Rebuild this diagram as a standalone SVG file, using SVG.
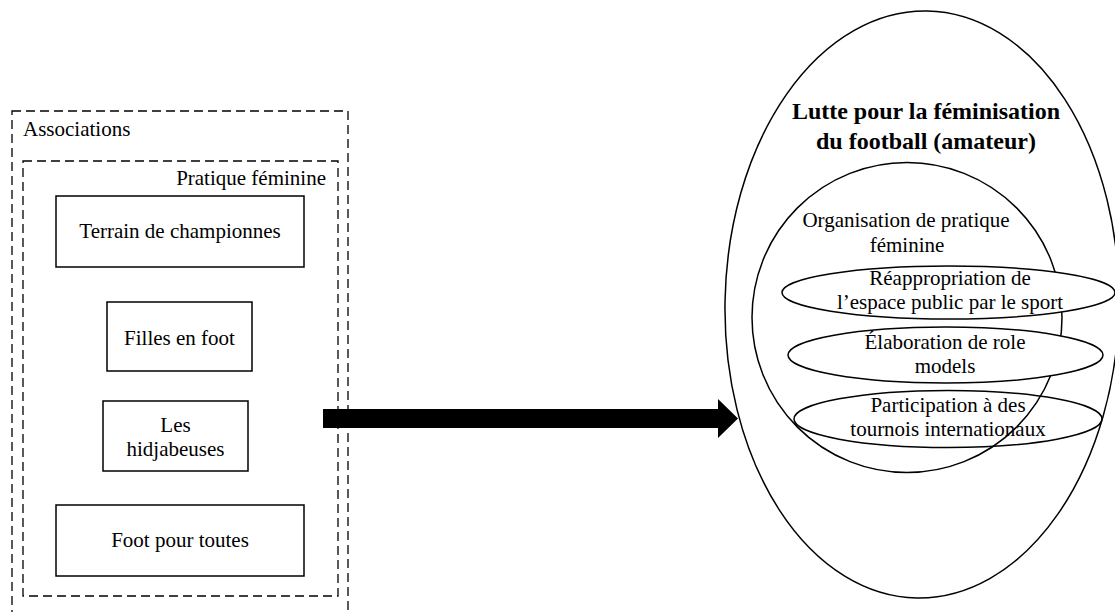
<svg xmlns="http://www.w3.org/2000/svg" width="1115" height="612" viewBox="0 0 1115 612">
<style>
.t{font-family:"Liberation Serif","Times New Roman",serif;font-size:21px;fill:#000}
.b{font-family:"Liberation Serif","Times New Roman",serif;font-size:24px;font-weight:bold;fill:#000}
.dash{fill:none;stroke:#000;stroke-width:1.3;stroke-dasharray:9,5}
.box{fill:#fff;stroke:#000;stroke-width:1.5}
.ell{fill:#fff;stroke:#000;stroke-width:1.5}
</style>
<rect width="1115" height="612" fill="#fff"/>
<g id="associations">
<rect class="dash" x="12" y="111" width="336" height="520"/>
<text class="t" x="23" y="136">Associations</text>
</g>
<g id="pratique-feminine">
<rect class="dash" x="23" y="161" width="315" height="435"/>
<text class="t" x="326" y="185" text-anchor="end">Pratique féminine</text>
</g>
<g id="terrain">
<rect class="box" x="56" y="196" width="248" height="71"/>
<text class="t" x="180" y="238" text-anchor="middle">Terrain de championnes</text>
</g>
<g id="filles">
<rect class="box" x="107" y="302" width="145" height="69"/>
<text class="t" x="179.5" y="345" text-anchor="middle">Filles en foot</text>
</g>
<g id="hidjabeuses">
<rect class="box" x="103" y="401" width="145" height="70"/>
<text class="t" x="175.5" y="432" text-anchor="middle">Les</text>
<text class="t" x="175.5" y="456" text-anchor="middle">hidjabeuses</text>
</g>
<g id="foot-pour-toutes">
<rect class="box" x="56" y="505" width="248" height="71"/>
<text class="t" x="180" y="547" text-anchor="middle">Foot pour toutes</text>
</g>
<g id="connectors">
<polygon points="323,409 718,409 718,399 738,418.5 718,438 718,428 323,428" fill="#000"/>
</g>
<g id="lutte">
<ellipse cx="922" cy="304.5" rx="197" ry="293.5" transform="rotate(1 922 304.5)" fill="none" stroke="#000" stroke-width="1.5"/>
<text class="b" x="926" y="119" text-anchor="middle">Lutte pour la féminisation</text>
<text class="b" x="926" y="149" text-anchor="middle">du football (amateur)</text>
</g>
<g id="organisation">
<circle cx="907" cy="317.5" r="155" fill="none" stroke="#000" stroke-width="1.5"/>
<text class="t" x="906" y="227" text-anchor="middle">Organisation de pratique</text>
<text class="t" x="907" y="252" text-anchor="middle">féminine</text>
</g>
<g id="reappropriation">
<ellipse class="ell" cx="948.5" cy="292.5" rx="166.5" ry="26.5"/>
<text class="t" x="950" y="285" text-anchor="middle">Réappropriation de</text>
<text class="t" x="950" y="309" text-anchor="middle">l’espace public par le sport</text>
</g>
<g id="role-models">
<ellipse class="ell" cx="945.5" cy="355" rx="157.5" ry="28"/>
<text class="t" x="945" y="349" text-anchor="middle">Élaboration de role</text>
<text class="t" x="945" y="373" text-anchor="middle">models</text>
</g>
<g id="tournois">
<ellipse class="ell" cx="948" cy="419" rx="154" ry="28.5" fill-opacity="0"/>
<text class="t" x="948" y="412" text-anchor="middle">Participation à des</text>
<text class="t" x="948" y="436" text-anchor="middle">tournois internationaux</text>
</g>
</svg>
